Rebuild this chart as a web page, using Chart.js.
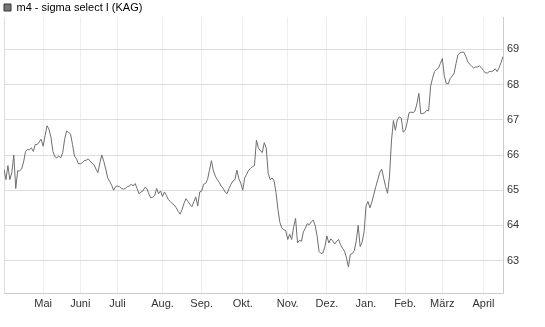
<!DOCTYPE html>
<html>
<head>
<meta charset="utf-8">
<script src="https://cdn.jsdelivr.net/npm/chart.js@4"></script>
<style>
    body { margin: 0; background: #fff; }
    #wrap { width: 545px; height: 327px; }
</style>
</head>
<body>
<div id="wrap"><canvas id="fundChart" width="545" height="327"></canvas></div>
<script>
const seriesName = 'm4 - sigma select I (KAG)';

// daily prices, April to April (trading days)
const prices = [
    65.6, 65.3, 65.7, 65.3, 65.5, 66.0, 65.05, 65.55, 65.55, 65.6,
    65.8, 66.1, 66.15, 66.15, 66.2, 66.1, 66.3, 66.3, 66.37, 66.45,
    66.25, 66.55, 66.83, 66.73, 66.5, 66.1, 65.95, 65.92, 65.97, 65.92,
    66.07, 66.45, 66.68, 66.64, 66.6, 66.3, 65.97, 65.9, 65.75, 65.75,
    65.78, 65.84, 65.85, 65.89, 65.83, 65.77, 65.72, 65.6, 65.5, 65.78,
    66.0, 65.82, 65.6, 65.35, 65.25, 65.14, 65.0, 65.1, 65.12, 65.1,
    65.05, 65.03, 65.05, 65.1, 65.12, 65.17, 65.12, 65.19, 65.05, 64.9,
    64.95, 64.98, 65.08, 65.05, 64.9, 64.78, 64.8, 64.85, 65.05, 64.9,
    64.98, 64.82, 64.95, 64.85, 64.73, 64.68, 64.62, 64.58, 64.5, 64.4,
    64.32, 64.45, 64.63, 64.76, 64.68, 64.6, 64.53, 64.67, 64.81, 64.55,
    64.95, 64.97, 65.17, 65.19, 65.3, 65.57, 65.84, 65.55, 65.4, 65.3,
    65.22, 65.12, 65.05, 64.95, 64.9, 65.05, 65.17, 65.26, 65.3, 65.57,
    65.33, 65.2, 65.0, 65.35, 65.45, 65.57, 65.62, 65.67, 65.7, 66.42,
    66.2, 66.12, 66.07, 66.35, 66.2, 65.48, 65.3, 65.35, 65.27, 64.93,
    64.45, 64.08, 63.92, 63.88, 63.85, 63.6, 63.75, 63.6, 63.95, 64.2,
    63.5, 63.58, 63.55, 63.82, 63.92, 64.05, 64.02, 64.1, 64.15, 64.0,
    63.7, 63.26, 63.2, 63.22, 63.4, 63.7, 63.5, 63.62, 63.56, 63.47,
    63.55, 63.6, 63.45, 63.35, 63.27, 63.08, 62.82, 63.18, 63.2, 63.28,
    63.56, 64.0, 63.4, 63.52, 63.82, 64.55, 64.68, 64.5, 64.67, 64.88,
    65.1, 65.3, 65.5, 65.6, 65.35, 65.1, 64.91, 65.4, 66.4, 66.98,
    66.7, 67.0, 67.08, 67.05, 66.65, 66.7, 66.92, 67.2, 67.22, 67.2,
    67.25, 67.45, 67.75, 67.17, 67.18, 67.2, 67.27, 67.25, 67.95, 68.18,
    68.37, 68.43, 68.47, 68.6, 68.74, 68.25, 68.03, 68.02, 68.17, 68.24,
    68.32, 68.6, 68.85, 68.9, 68.92, 68.92, 68.8, 68.65, 68.58, 68.52,
    68.47, 68.5, 68.5, 68.53, 68.48, 68.4, 68.33, 68.33, 68.37, 68.37,
    68.39, 68.45, 68.37, 68.48, 68.62, 68.8
];

// first trading day of each month (index into prices)
const monthNames = ['Mai', 'Juni', 'Juli', 'Aug.', 'Sep.', 'Okt.', 'Nov.', 'Dez.', 'Jan.', 'Feb.', 'März', 'April'];
const monthStart = [20, 39, 58, 81, 101, 122, 145, 165, 185, 205, 224, 245];

const yTicks = [63, 64, 65, 66, 67, 68, 69];

Chart.defaults.font.family = '"Liberation Sans", Arial, sans-serif';
Chart.defaults.font.size = 11;
Chart.defaults.color = '#333';

// fixed legend strip height
const legendHeight = {
    id: 'legendHeight',
    beforeInit(chart) {
        const fit = chart.legend.fit;
        chart.legend.fit = function () {
            fit.bind(chart.legend)();
            this.height = 17;
        };
    }
};

const ctx = document.getElementById('fundChart').getContext('2d');
new Chart(ctx, {
    type: 'line',
    data: {
        labels: prices.map((p, i) => i),
        datasets: [{
            label: seriesName,
            data: prices,
            borderColor: '#6e6e6e',
            borderWidth: 1,
            pointRadius: 0,
            tension: 0,
            fill: false
        }]
    },
    options: {
        responsive: false,
        animation: false,
        devicePixelRatio: 1,
        layout: { padding: { left: 2, top: 0, right: 0, bottom: 0 } },
        plugins: {
            tooltip: { enabled: false },
            legend: {
                display: true,
                position: 'top',
                align: 'start',
                labels: {
                    boxWidth: 7,
                    boxHeight: 7,
                    padding: 2,
                    color: '#222',
                    font: { size: 11 },
                    generateLabels: (chart) => chart.data.datasets.map((ds, i) => ({
                        text: ds.label,
                        fillStyle: '#777',
                        strokeStyle: '#333',
                        lineWidth: 1,
                        datasetIndex: i,
                        hidden: false
                    }))
                }
            }
        },
        scales: {
            x: {
                type: 'linear',
                min: 0,
                max: prices.length - 1,
                afterBuildTicks: (axis) => {
                    axis.ticks = [0].concat(monthStart).map(v => ({ value: v }));
                },
                afterFit: (axis) => { axis.height = 34; },
                ticks: {
                    autoSkip: false,
                    maxRotation: 0,
                    padding: 4,
                    color: '#333',
                    callback: (value) => {
                        const k = monthStart.indexOf(value);
                        return k >= 0 ? monthNames[k] : '';
                    }
                },
                grid: {
                    drawTicks: false,
                    color: (c) => c.index === 0 ? '#ddd' : '#eee'
                },
                border: { color: '#ccc' }
            },
            y: {
                position: 'right',
                min: 62.08,
                max: 69.92,
                afterBuildTicks: (axis) => {
                    axis.ticks = yTicks.map(v => ({ value: v }));
                },
                afterFit: (axis) => { axis.width = 42; },
                ticks: {
                    padding: 4,
                    color: '#333'
                },
                grid: {
                    drawTicks: false,
                    color: '#ddd'
                },
                border: { color: '#ccc' }
            }
        }
    },
    plugins: [legendHeight]
});
</script>
</body>
</html>
